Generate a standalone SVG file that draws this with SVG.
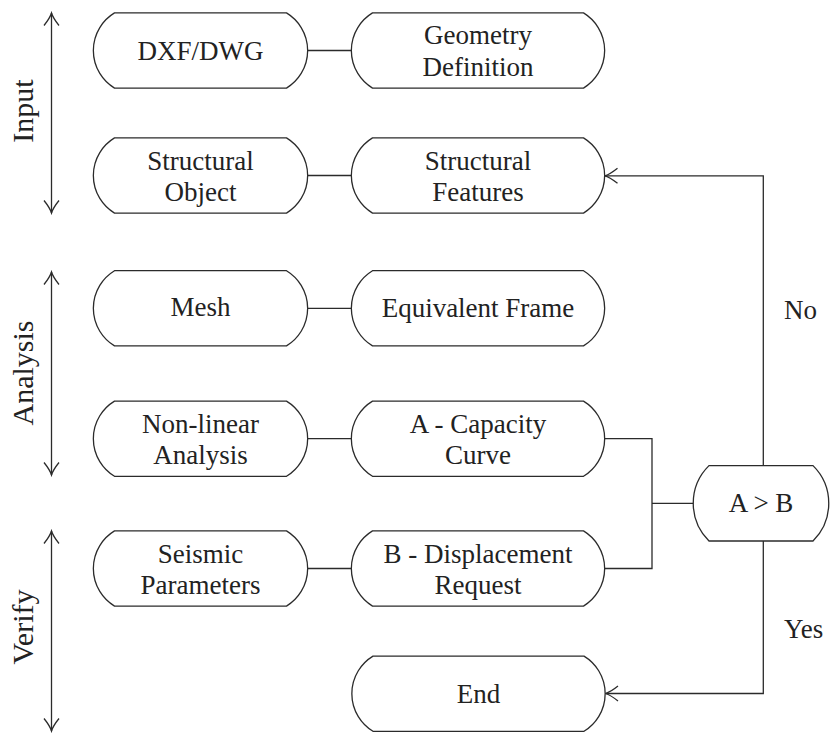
<svg xmlns="http://www.w3.org/2000/svg" xmlns:xlink="http://www.w3.org/1999/xlink" width="830" height="733" viewBox="0 0 830 733">
<style>
  .shape { fill: #ffffff; stroke: #2b2b2b; stroke-width: 1.3; }
  .conn { fill: none; stroke: #2b2b2b; stroke-width: 1.3; }
  .t { font-family: "Liberation Serif", "DejaVu Serif", serif; font-size: 27px; fill: #222222; text-anchor: middle; }
  .side { font-family: "Liberation Serif", "DejaVu Serif", serif; font-size: 30px; fill: #222222; text-anchor: middle; }
  .lbl { font-family: "Liberation Serif", "DejaVu Serif", serif; font-size: 27px; fill: #222222; }
</style>
<defs>
  <marker id="arr" viewBox="-14 -9 16 18" refX="0" refY="0" markerWidth="16" markerHeight="18" markerUnits="userSpaceOnUse" orient="auto-start-reverse">
    <path d="M -12.5 -7.5 Q -5 -1.5 0 0 Q -5 1.5 -12.5 7.5" fill="none" stroke="#2b2b2b" stroke-width="1.3"/>
  </marker>
  <path id="shapeL" d="M -86 -37.6 H 86 A 44 44 0 0 1 86 37.6 H -86 A 44 44 0 0 1 -86 -37.6 Z"/>
  <path id="shapeR" d="M -105.5 -37.6 H 105.5 A 44 44 0 0 1 105.5 37.6 H -105.5 A 44 44 0 0 1 -105.5 -37.6 Z"/>
  <path id="shapeD" d="M -52 -37.7 H 52 A 53 53 0 0 1 52 37.7 H -52 A 53 53 0 0 1 -52 -37.7 Z"/>
</defs>

<g id="connectors">
  <line class="conn" x1="308" y1="50.5" x2="351" y2="50.5"/>
  <line class="conn" x1="308" y1="175.5" x2="351" y2="175.5"/>
  <line class="conn" x1="308" y1="308.3" x2="351" y2="308.3"/>
  <line class="conn" x1="308" y1="438.7" x2="351" y2="438.7"/>
  <line class="conn" x1="308" y1="568.5" x2="351" y2="568.5"/>
  <path class="conn" d="M 605 438.7 H 652 V 568.5 H 605"/>
  <line class="conn" x1="652" y1="503.3" x2="694" y2="503.3"/>
  <path class="conn" d="M 763.3 465.6 V 175.8 H 605" marker-end="url(#arr)"/>
  <path class="conn" d="M 763.3 541 V 693.5 H 605.5" marker-end="url(#arr)"/>
  <line class="conn" x1="51.5" y1="13" x2="51.5" y2="213" marker-start="url(#arr)" marker-end="url(#arr)"/>
  <line class="conn" x1="51.5" y1="272" x2="51.5" y2="475" marker-start="url(#arr)" marker-end="url(#arr)"/>
  <line class="conn" x1="51.5" y1="531" x2="51.5" y2="731" marker-start="url(#arr)" marker-end="url(#arr)"/>
  <text class="lbl" x="784" y="319">No</text>
  <text class="lbl" x="784" y="638">Yes</text>
</g>

<g id="label-input">
  <text class="side" transform="translate(33,111) rotate(-90)">Input</text>
</g>
<g id="label-analysis">
  <text class="side" transform="translate(33,373) rotate(-90)">Analysis</text>
</g>
<g id="label-verify">
  <text class="side" transform="translate(33,627) rotate(-90)">Verify</text>
</g>

<g id="dxf">
  <use xlink:href="#shapeL" href="#shapeL" class="shape" x="200.5" y="50.5"/>
  <text class="t" x="200.5" y="60">DXF/DWG</text>
</g>
<g id="geometry">
  <use xlink:href="#shapeR" href="#shapeR" class="shape" x="478" y="50.5"/>
  <text class="t" x="478" y="44">Geometry</text>
  <text class="t" x="478" y="76">Definition</text>
</g>
<g id="structural-object">
  <use xlink:href="#shapeL" href="#shapeL" class="shape" x="200.5" y="175.5"/>
  <text class="t" x="200.5" y="170">Structural</text>
  <text class="t" x="200.5" y="201">Object</text>
</g>
<g id="structural-features">
  <use xlink:href="#shapeR" href="#shapeR" class="shape" x="478" y="175.5"/>
  <text class="t" x="478" y="170">Structural</text>
  <text class="t" x="478" y="201">Features</text>
</g>
<g id="mesh">
  <use xlink:href="#shapeL" href="#shapeL" class="shape" x="200.5" y="308.3"/>
  <text class="t" x="200.5" y="316">Mesh</text>
</g>
<g id="equivalent-frame">
  <use xlink:href="#shapeR" href="#shapeR" class="shape" x="478" y="308.3"/>
  <text class="t" x="478" y="317">Equivalent Frame</text>
</g>
<g id="nonlinear">
  <use xlink:href="#shapeL" href="#shapeL" class="shape" x="200.5" y="438.7"/>
  <text class="t" x="200.5" y="432.5">Non-linear</text>
  <text class="t" x="200.5" y="463.5">Analysis</text>
</g>
<g id="capacity">
  <use xlink:href="#shapeR" href="#shapeR" class="shape" x="478" y="438.7"/>
  <text class="t" x="478" y="432.5">A - Capacity</text>
  <text class="t" x="478" y="463.5">Curve</text>
</g>
<g id="seismic">
  <use xlink:href="#shapeL" href="#shapeL" class="shape" x="200.5" y="568.5"/>
  <text class="t" x="200.5" y="562.5">Seismic</text>
  <text class="t" x="200.5" y="593.5">Parameters</text>
</g>
<g id="displacement">
  <use xlink:href="#shapeR" href="#shapeR" class="shape" x="478" y="568.5"/>
  <text class="t" x="478" y="562.5">B - Displacement</text>
  <text class="t" x="478" y="593.5">Request</text>
</g>
<g id="check">
  <use xlink:href="#shapeD" href="#shapeD" class="shape" x="761" y="503.3"/>
  <text class="t" x="761" y="512">A &gt; B</text>
</g>
<g id="end">
  <use xlink:href="#shapeR" href="#shapeR" class="shape" x="478.5" y="693.7"/>
  <text class="t" x="478.5" y="702.5">End</text>
</g>
</svg>
